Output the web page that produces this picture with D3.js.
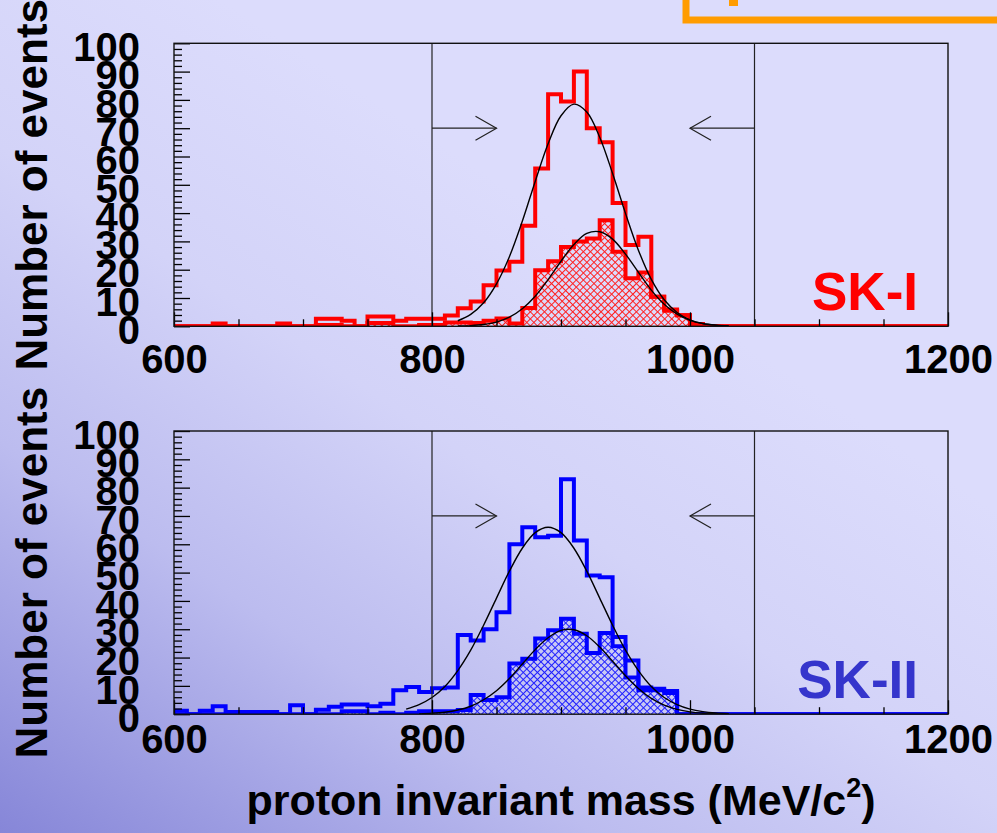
<!DOCTYPE html>
<html><head><meta charset="utf-8">
<script src="https://cdn.jsdelivr.net/npm/d3@7"></script>
<style>html,body{margin:0;padding:0;overflow:hidden;background:#d8d8fa}</style>
</head><body>
<svg id="chart" width="997" height="833"></svg>
<script>
// ---- data: 10 MeV bins from 600 to 1200 MeV/c^2 ----
const binLow = d3.range(600, 1200, 10);

// SK-I: all events (outline) and selected events (hatched)
const skIAll = [
  0, 0, 0, 1, 0, 0, 0, 0, 1, 0,
  0, 2.7, 2.7, 2, 0, 3.5, 3.5, 2, 2.7, 2.7,
  2.7, 3.8, 6.4, 8.8, 14.5, 19.7, 22.8, 35.5, 55.8, 82,
  79.4, 90, 70, 65, 43.6, 28.7, 31.6, 10.4, 5.9, 3.9,
  0.8, 0, 0, 0, 0, 0, 0, 0, 0, 0,
  0, 0, 0, 0, 0, 0, 0, 0, 0, 0
];
const skISel = [
  0, 0, 0, 0, 0, 0, 0, 0, 0, 0,
  0, 0.5, 0.5, 0, 0, 1.2, 1.2, 0, 0, 0.5,
  0.5, 1.3, 1.3, 1.2, 2, 2.8, 1, 6.5, 19.8, 23,
  28, 30, 31, 37.5, 26.3, 17, 19, 10.4, 5.5, 3.9,
  0.8, 0, 0, 0, 0, 0, 0, 0, 0, 0,
  0, 0, 0, 0, 0, 0, 0, 0, 0, 0
];

// SK-II: all events (outline) and selected events (hatched)
const skIIAll = [
  1.2, 0, 1.2, 2.8, 0.8, 0.8, 0.8, 0.8, 0, 3.2,
  0, 1.6, 2.6, 3.4, 3.4, 2.8, 3.7, 8.5, 9.6, 7.8,
  9.2, 9.4, 28, 26, 30, 36, 60, 66, 62.5, 63,
  83, 61.3, 49, 48.4, 27.3, 19, 9.4, 9, 8.2, 0,
  0, 0, 0, 0, 0, 0, 0, 0, 0, 0,
  0, 0, 0, 0, 0, 0, 0, 0, 0, 0
];
const skIISel = [
  0, 0, 0, 0, 0, 0, 0, 0, 0, 0,
  0, 0, 0, 1, 1, 0, 0.5, 0, 0.5, 1,
  1, 1, 1.5, 6.8, 5, 6, 17.9, 19.6, 26.7, 29.6,
  33.7, 28.4, 21.6, 28.7, 24, 13, 8.5, 8.5, 7.5, 0,
  0, 0, 0, 0, 0, 0, 0, 0, 0, 0,
  0, 0, 0, 0, 0, 0, 0, 0, 0, 0
];

// fitted curves, sampled every 10 MeV
const fitIAllMass = d3.range(820, 1031, 10);
const fitIAll = [1.96, 4.2, 8.3, 15.0, 24.6, 37.1, 51.2, 64.5, 74.4, 78.5, 75.7, 66.8,
                 54.0, 39.9, 26.9, 16.6, 9.4, 4.9, 2.3, 1.0, 0.4, 0.14];
const fitISelMass = d3.range(820, 1031, 10);
const fitISel = [0.09, 0.25, 0.65, 1.5, 3.2, 6.2, 10.6, 16.5, 23.0, 28.9, 32.8, 33.4,
                 30.8, 25.5, 19.1, 12.8, 7.8, 4.3, 2.1, 0.93, 0.37, 0.13];
const fitIIAllMass = d3.range(780, 1031, 10);
const fitIIAll = [1.8, 3.4, 5.9, 9.8, 15.4, 22.6, 31.4, 41.0, 50.5, 58.6, 64.1, 66, 64.1,
                  58.6, 50.5, 41.0, 31.4, 22.6, 15.4, 9.8, 5.9, 3.4, 1.8, 0.91, 0.43, 0.19];
const fitIISelMass = d3.range(790, 1031, 10);
const fitIISel = [0.12, 0.31, 0.70, 1.47, 2.8, 5.1, 8.3, 12.6, 17.7, 22.8, 27.0, 29.6, 29.8,
                  27.7, 23.7, 18.7, 13.6, 9.1, 5.6, 3.2, 1.7, 0.81, 0.36, 0.15, 0.06];

// selection window and arrows
const cutMass = [800, 1050];
const arrowTip = [850, 1000];
const arrowLevel = 70;

const yTicks = d3.range(0, 101, 10);
const xTicks = [600, 800, 1000, 1200];

// ---- drawing ----
const W = 997, H = 833;
const FONT = "'Liberation Sans', Arial, Helvetica, sans-serif";
const svg = d3.select("#chart");
const defs = svg.append("defs");

const bg = defs.append("linearGradient").attr("id", "bgGrad")
  .attr("gradientUnits", "userSpaceOnUse")
  .attr("x1", 0).attr("y1", 833).attr("x2", 450).attr("y2", 150);
[[0, "#8686d8"], [0.4, "#bcbcef"], [0.7, "#d3d3f8"], [1, "#dcdcfc"]]
  .forEach(([o, c]) => bg.append("stop").attr("offset", o).attr("stop-color", c));
svg.append("rect").attr("width", W).attr("height", H).attr("fill", "url(#bgGrad)");

function makeHatch(id, color) {
  const p = defs.append("pattern").attr("id", id)
    .attr("patternUnits", "userSpaceOnUse")
    .attr("width", 5).attr("height", 5)
    .attr("patternTransform", "rotate(45)");
  p.append("path").attr("d", "M0.5,0V5M0,0.5H5")
    .attr("stroke", color).attr("stroke-width", 1).attr("fill", "none");
}
makeHatch("hatchRed", "#ff2020");
makeHatch("hatchBlue", "#2020ff");

// orange frame in the top-right corner
svg.append("rect").attr("x", 686).attr("y", -20).attr("width", 400).attr("height", 40)
  .attr("fill", "none").attr("stroke", "#ff9c00").attr("stroke-width", 7);
svg.append("rect").attr("x", 729).attr("y", -2).attr("width", 9).attr("height", 8)
  .attr("fill", "#ff9c00");

const x = d3.scaleLinear().domain([600, 1200]).range([174, 948]);

const panels = [
  { top: 43.3, bottom: 326.3, all: skIAll, sel: skISel, color: "#ff0000",
    hatch: "url(#hatchRed)", label: "SK-I", labelColor: "#ff0000", xPad: 18,
    fits: [[fitIAllMass, fitIAll], [fitISelMass, fitISel]] },
  { top: 431, bottom: 714.2, all: skIIAll, sel: skIISel, color: "#0000ff",
    hatch: "url(#hatchBlue)", label: "SK-II", labelColor: "#3535cc", xPad: 10,
    fits: [[fitIIAllMass, fitIIAll], [fitIISelMass, fitIISel]] }
];

function stepPoints(vals) {
  const pts = [[binLow[0], 0]];
  vals.forEach((v, i) => { pts.push([binLow[i], v]); pts.push([binLow[i] + 10, v]); });
  pts.push([binLow[binLow.length - 1] + 10, 0]);
  return pts;
}

panels.forEach((p, k) => {
  const y = d3.scaleLinear().domain([0, 100]).range([p.bottom, p.top]);
  const g = svg.append("g");
  const clipId = "clip" + k;
  defs.append("clipPath").attr("id", clipId).append("rect")
    .attr("x", x(600)).attr("y", p.top).attr("width", x(1200) - x(600)).attr("height", p.bottom - p.top);

  const plot = g.append("g").attr("clip-path", `url(#${clipId})`);
  const line = d3.line().x(d => x(d[0])).y(d => y(d[1]));
  const area = d3.area().x(d => x(d[0])).y0(y(0)).y1(d => y(d[1]));

  plot.append("path").attr("d", area(stepPoints(p.sel))).attr("fill", p.hatch);
  plot.append("path").attr("d", line(stepPoints(p.sel)))
    .attr("fill", "none").attr("stroke", p.color).attr("stroke-width", 4);
  plot.append("path").attr("d", line(stepPoints(p.all)))
    .attr("fill", "none").attr("stroke", p.color).attr("stroke-width", 4);

  const curve = d3.line().x(d => x(d[0])).y(d => y(d[1])).curve(d3.curveCatmullRom);
  p.fits.forEach(([ms, vs]) => {
    plot.append("path").attr("d", curve(ms.map((m, i) => [m, vs[i]])))
      .attr("fill", "none").attr("stroke", "#000").attr("stroke-width", 1.4);
  });

  // selection window lines and arrows
  cutMass.forEach((c, i) => {
    g.append("line").attr("x1", x(c)).attr("x2", x(c)).attr("y1", y(0)).attr("y2", y(100))
      .attr("stroke", "#222").attr("stroke-width", 1.2);
    const tx = x(arrowTip[i]), ay = y(arrowLevel), dir = Math.sign(arrowTip[i] - c);
    g.append("line").attr("x1", x(c)).attr("x2", tx).attr("y1", ay).attr("y2", ay)
      .attr("stroke", "#222").attr("stroke-width", 1.2);
    g.append("path")
      .attr("d", `M${tx - dir * 21},${ay - 12}L${tx},${ay}L${tx - dir * 21},${ay + 12}`)
      .attr("fill", "none").attr("stroke", "#222").attr("stroke-width", 1.2);
  });

  // axes
  const styleAxis = sel => {
    sel.select(".domain").remove();
    sel.attr("font-family", FONT).attr("font-size", 40).attr("font-weight", "bold");
    sel.selectAll(".tick line").attr("stroke", "#000").attr("stroke-width", 1.3);
    sel.selectAll(".tick text").attr("fill", "#000");
  };
  g.append("g").attr("transform", `translate(${x(600)},0)`)
    .call(d3.axisLeft(y).tickValues(d3.range(0, 101, 2).filter(v => v % 10)).tickSize(-8).tickFormat(""))
    .call(styleAxis);
  g.append("g").attr("transform", `translate(${x(600)},0)`)
    .call(d3.axisLeft(y).tickValues(yTicks).tickSize(-16).tickPadding(34).tickFormat(d3.format("d")))
    .call(styleAxis)
    .call(s => s.selectAll(".tick text").attr("dy", "0.43em"));
  g.append("g").attr("transform", `translate(0,${y(0)})`)
    .call(d3.axisBottom(x).tickValues(d3.range(600, 1201, 50).filter(v => v % 200)).tickSize(-7).tickFormat(""))
    .call(styleAxis);
  g.append("g").attr("transform", `translate(0,${y(0)})`)
    .call(d3.axisBottom(x).tickValues(xTicks).tickSize(-14).tickPadding(p.xPad).tickFormat(d3.format("d")))
    .call(styleAxis);

  // frame
  g.append("rect").attr("x", x(600)).attr("y", y(100))
    .attr("width", x(1200) - x(600)).attr("height", y(0) - y(100))
    .attr("fill", "none").attr("stroke", "#111").attr("stroke-width", 1.4);

  // axis title
  g.append("text")
    .attr("transform", `translate(47,${(p.top + p.bottom) / 2}) rotate(-90)`)
    .attr("text-anchor", "middle").attr("font-family", FONT)
    .attr("font-size", 44).attr("font-weight", "bold").attr("fill", "#000")
    .text("Number of events");

  // data set label
  g.append("text").attr("x", 918).attr("y", p.bottom - 16)
    .attr("text-anchor", "end").attr("font-family", FONT)
    .attr("font-size", 53).attr("font-weight", "bold").attr("fill", p.labelColor)
    .text(p.label);
});

// x-axis title
const xt = svg.append("text").attr("x", (x(600) + x(1200)) / 2).attr("y", 815)
  .attr("text-anchor", "middle").attr("font-family", FONT)
  .attr("font-size", 43).attr("font-weight", "bold").attr("fill", "#000");
xt.append("tspan").text("proton invariant mass (MeV/c");
xt.append("tspan").attr("font-size", 27).attr("dy", -18).text("2");
xt.append("tspan").attr("dy", 18).text(")");
</script>
</body></html>
